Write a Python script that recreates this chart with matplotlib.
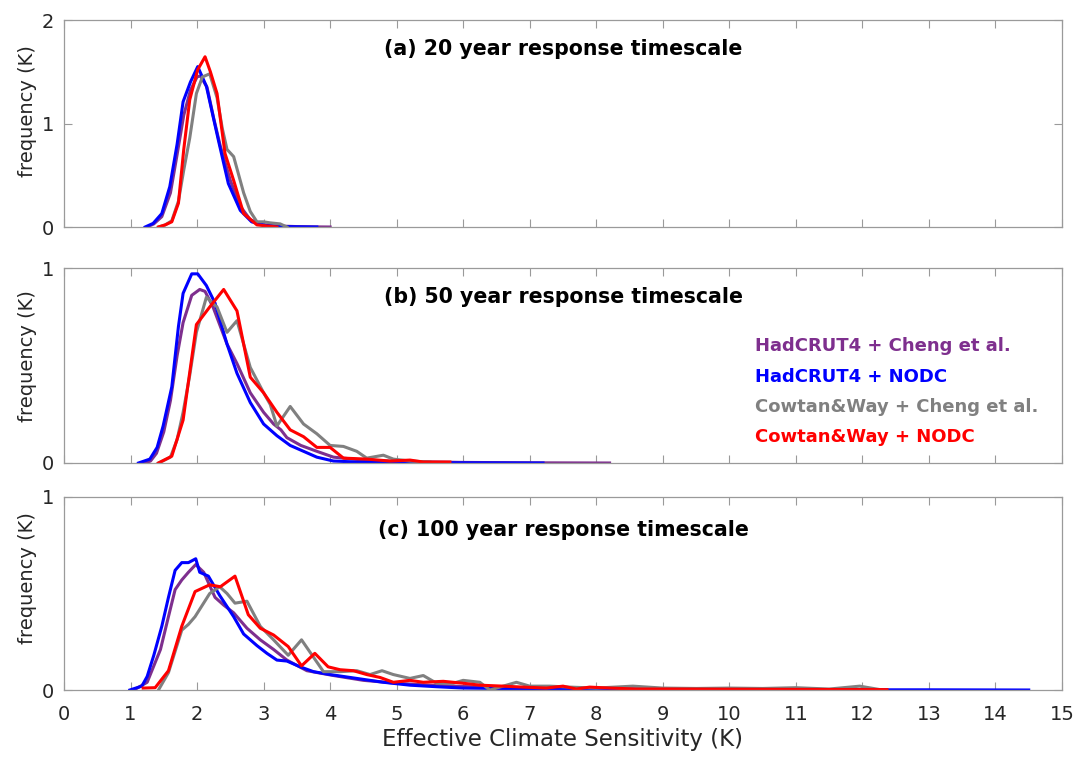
import matplotlib
matplotlib.use("Agg")
import matplotlib.pyplot as plt

plt.rcParams['font.family'] = ['DejaVu Sans']

# ---------------- data ----------------
# Panel (a): 20 year response timescale
purple_a_x = [1.25, 1.35, 1.47, 1.6, 1.7, 1.8, 1.9, 2.0, 2.05, 2.15, 2.25, 2.35, 2.5, 2.65, 2.8, 3.0, 3.2, 3.5, 3.8, 4.0]
purple_a_y = [0, 0.03, 0.10, 0.33, 0.70, 1.08, 1.32, 1.45, 1.46, 1.35, 1.05, 0.78, 0.45, 0.2, 0.07, 0.02, 0.01, 0.004, 0.001, 0]
blue_a_x = [1.22, 1.34, 1.47, 1.59, 1.70, 1.79, 1.90, 2.01, 2.14, 2.23, 2.32, 2.47, 2.65, 2.82, 3.0, 3.2, 3.5, 3.8]
blue_a_y = [0, 0.035, 0.13, 0.39, 0.80, 1.21, 1.40, 1.55, 1.36, 1.10, 0.84, 0.42, 0.16, 0.05, 0.02, 0.005, 0.002, 0]
gray_a_x = [1.42, 1.52, 1.62, 1.72, 1.80, 1.89, 1.99, 2.08, 2.19, 2.30, 2.38, 2.45, 2.55, 2.70, 2.80, 2.90, 3.0, 3.1, 3.25, 3.35]
gray_a_y = [0, 0.02, 0.06, 0.25, 0.55, 0.86, 1.29, 1.45, 1.48, 1.25, 0.95, 0.75, 0.68, 0.33, 0.15, 0.05, 0.05, 0.04, 0.03, 0]
red_a_x = [1.42, 1.52, 1.62, 1.72, 1.80, 1.89, 2.01, 2.12, 2.20, 2.30, 2.42, 2.55, 2.70, 2.90, 3.05, 3.2]
red_a_y = [0, 0.02, 0.05, 0.23, 0.75, 1.23, 1.52, 1.645, 1.50, 1.29, 0.71, 0.45, 0.13, 0.02, 0.01, 0]

# Panel (b): 50 year response timescale
purple_b_x = [1.2, 1.30, 1.39, 1.50, 1.60, 1.70, 1.79, 1.92, 2.04, 2.12, 2.24, 2.45, 2.60, 2.80, 3.0, 3.15, 3.26, 3.35, 3.56, 3.8, 4.05, 4.5, 5.0, 6.0, 7.0, 8.2]
purple_b_y = [0, 0.01, 0.05, 0.16, 0.32, 0.55, 0.72, 0.86, 0.89, 0.88, 0.80, 0.61, 0.51, 0.36, 0.26, 0.20, 0.17, 0.13, 0.09, 0.06, 0.03, 0.015, 0.008, 0.003, 0.001, 0]
blue_b_x = [1.12, 1.29, 1.40, 1.49, 1.62, 1.72, 1.79, 1.92, 2.01, 2.14, 2.27, 2.45, 2.60, 2.80, 3.0, 3.2, 3.4, 3.6, 3.8, 4.05, 4.4, 5.0, 6.0, 7.2]
blue_b_y = [0, 0.02, 0.08, 0.19, 0.39, 0.70, 0.87, 0.97, 0.97, 0.91, 0.82, 0.61, 0.46, 0.31, 0.20, 0.14, 0.09, 0.06, 0.03, 0.01, 0.005, 0.002, 0.001, 0]
gray_b_x = [1.42, 1.6, 1.70, 1.79, 1.89, 1.99, 2.14, 2.30, 2.45, 2.60, 2.80, 3.0, 3.1, 3.2, 3.4, 3.6, 3.8, 4.0, 4.2, 4.4, 4.55, 4.8, 4.95, 5.2, 5.5]
gray_b_y = [0, 0.03, 0.12, 0.26, 0.45, 0.67, 0.85, 0.80, 0.67, 0.73, 0.49, 0.36, 0.30, 0.19, 0.29, 0.20, 0.15, 0.09, 0.085, 0.06, 0.025, 0.04, 0.02, 0.01, 0.005]
red_b_x = [1.42, 1.62, 1.79, 1.99, 2.19, 2.40, 2.60, 2.80, 3.0, 3.2, 3.4, 3.6, 3.8, 4.0, 4.2, 4.55, 4.9, 5.2, 5.4, 5.8]
red_b_y = [0, 0.035, 0.22, 0.71, 0.80, 0.89, 0.78, 0.44, 0.36, 0.26, 0.17, 0.135, 0.08, 0.08, 0.025, 0.02, 0.01, 0.015, 0.005, 0.005]

# Panel (c): 100 year response timescale
purple_c_x = [1.05, 1.25, 1.45, 1.57, 1.67, 1.77, 1.87, 1.98, 2.1, 2.27, 2.4, 2.55, 2.75, 2.95, 3.15, 3.35, 3.65, 4.05, 4.5, 5.0, 5.5, 6.0, 7.0, 8.0, 9.0, 10.0, 11.0, 12.0]
purple_c_y = [0, 0.04, 0.21, 0.38, 0.52, 0.57, 0.61, 0.65, 0.61, 0.48, 0.44, 0.40, 0.32, 0.26, 0.21, 0.155, 0.10, 0.075, 0.05, 0.035, 0.025, 0.018, 0.01, 0.008, 0.005, 0.004, 0.003, 0.002]
blue_c_x = [0.99, 1.17, 1.25, 1.35, 1.47, 1.57, 1.67, 1.77, 1.87, 1.98, 2.04, 2.17, 2.34, 2.55, 2.70, 2.90, 3.05, 3.2, 3.35, 3.55, 3.75, 4.0, 4.4, 4.8, 5.2, 5.6, 6.0, 7.0, 8.0, 9.0, 10.0, 11.0, 12.0, 13.0, 14.5]
blue_c_y = [0, 0.02, 0.07, 0.18, 0.33, 0.48, 0.62, 0.66, 0.66, 0.68, 0.61, 0.59, 0.49, 0.38, 0.29, 0.23, 0.19, 0.155, 0.15, 0.12, 0.095, 0.08, 0.06, 0.04, 0.025, 0.017, 0.01, 0.006, 0.004, 0.003, 0.002, 0.002, 0.001, 0.001, 0]
gray_c_x = [1.42, 1.57, 1.67, 1.77, 1.87, 1.97, 2.08, 2.19, 2.34, 2.45, 2.57, 2.75, 2.95, 3.15, 3.37, 3.57, 3.75, 3.9, 4.15, 4.4, 4.6, 4.78, 4.95, 5.2, 5.4, 5.6, 5.85, 6.0, 6.25, 6.4, 6.6, 6.8, 7.0, 7.3, 7.6, 8.0, 8.55, 9.0, 9.5, 10.0, 10.5, 11.0, 11.5, 11.96, 12.3]
gray_c_y = [0, 0.09, 0.20, 0.31, 0.34, 0.38, 0.44, 0.50, 0.535, 0.50, 0.45, 0.46, 0.33, 0.26, 0.18, 0.26, 0.17, 0.095, 0.095, 0.10, 0.08, 0.10, 0.08, 0.06, 0.075, 0.035, 0.035, 0.05, 0.04, 0.0, 0.02, 0.04, 0.02, 0.02, 0.015, 0.01, 0.02, 0.01, 0.008, 0.01, 0.008, 0.012, 0.005, 0.02, 0.0]
red_c_x = [1.19, 1.37, 1.57, 1.77, 1.97, 2.19, 2.35, 2.57, 2.77, 2.95, 3.15, 3.37, 3.57, 3.77, 3.97, 4.15, 4.35, 4.55, 4.75, 4.95, 5.2, 5.4, 5.7, 6.0, 6.25, 6.6, 6.9, 7.25, 7.5, 7.7, 7.9, 8.2, 8.6, 9.0, 10.0, 11.0, 12.37]
red_c_y = [0.01, 0.012, 0.10, 0.33, 0.51, 0.545, 0.535, 0.59, 0.39, 0.32, 0.285, 0.225, 0.125, 0.19, 0.12, 0.105, 0.10, 0.08, 0.065, 0.04, 0.05, 0.04, 0.045, 0.035, 0.025, 0.02, 0.015, 0.01, 0.02, 0.005, 0.015, 0.01, 0.005, 0.005, 0.004, 0.003, 0.002]

panel_titles = ["(a) 20 year response timescale",
                "(b) 50 year response timescale",
                "(c) 100 year response timescale"]
series_labels = ["HadCRUT4 + Cheng et al.", "HadCRUT4 + NODC",
                 "Cowtan&Way + Cheng et al.", "Cowtan&Way + NODC"]
series_colors = ["#7E2F8E", "#0000FF", "#808080", "#FF0000"]
x_ticks = list(range(0, 16))
y_ticks_list = [[0, 1, 2], [0, 1], [0, 1]]
y_lims = [(0, 2), (0, 1), (0, 1)]

panels = [
    [(purple_a_x, purple_a_y), (blue_a_x, blue_a_y), (gray_a_x, gray_a_y), (red_a_x, red_a_y)],
    [(purple_b_x, purple_b_y), (blue_b_x, blue_b_y), (gray_b_x, gray_b_y), (red_b_x, red_b_y)],
    [(purple_c_x, purple_c_y), (blue_c_x, blue_c_y), (gray_c_x, gray_c_y), (red_c_x, red_c_y)],
]

# ---------------- figure ----------------
fig = plt.figure(figsize=(10.75, 7.61), dpi=100)
W, H = 1075, 761
boxes = [(20, 227), (268, 463), (497, 690)]
left_px, right_px = 64, 1062
frame_col = "#9a9a9a"
text_col = "#262626"
title_pos = [0.862, 0.851, 0.829]
ylabel_pos = [0.56, 0.55, 0.58]

axes = []
for i, (top, bot) in enumerate(boxes):
    ax = fig.add_axes([left_px / W, 1 - bot / H, (right_px - left_px) / W, (bot - top) / H])
    axes.append(ax)
    for (xs, ys), col in zip(panels[i], series_colors):
        ax.plot(xs, ys, color=col, lw=2.2, solid_joinstyle='round')
    ax.set_xlim(0, 15)
    ax.set_ylim(*y_lims[i])
    ax.set_xticks(x_ticks)
    ax.set_yticks(y_ticks_list[i])
    ax.tick_params(direction='in', length=6, width=0.8, color=frame_col,
                   top=True, right=True, labelsize=14, labelcolor=text_col)
    ax.tick_params(axis='y', pad=7)
    ax.tick_params(axis='x', pad=11)
    for s in ax.spines.values():
        s.set_color(frame_col)
        s.set_linewidth(0.9)
    if i < 2:
        ax.set_xticklabels([])
    ax.set_ylabel("frequency (K)", fontsize=14, color=text_col)
    ax.yaxis.set_label_coords(-0.027, ylabel_pos[i])
    ax.text(0.5, title_pos[i], panel_titles[i], transform=ax.transAxes,
            ha='center', va='center', fontsize=14.8, fontweight='bold', color='black')

axes[2].set_xlabel("Effective Climate Sensitivity (K)", fontsize=16.5, color=text_col, labelpad=3)

# legend as coloured text in panel (b)
leg_y = [346, 377, 407, 437]
for lab, col, yp in zip(series_labels, series_colors, leg_y):
    fig.text(755 / W, 1 - yp / H, lab, color=col, fontsize=13, fontweight='bold',
             ha='left', va='center')

fig.savefig("out.png", dpi=100)
